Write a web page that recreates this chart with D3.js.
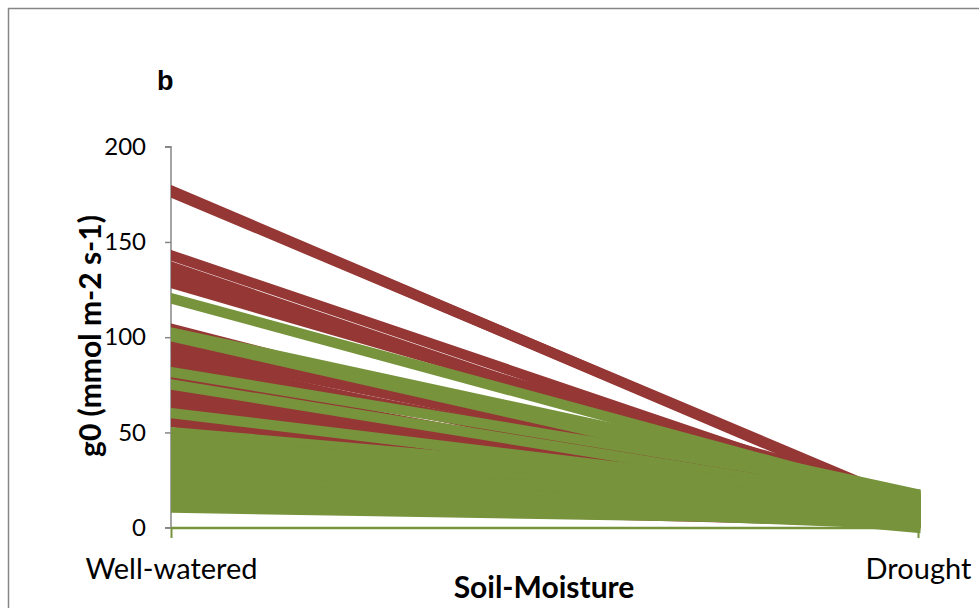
<!DOCTYPE html>
<html>
<head>
<meta charset="utf-8">
<script src="https://cdn.jsdelivr.net/npm/d3@7"></script>
<style>
  html, body { margin: 0; padding: 0; background: #fff; }
  svg { display: block; }
</style>
</head>
<body>
<div id="chart"></div>
<script>
// ---- data ----
const categories = ["Well-watered", "Drought"];
const yTicks = [0, 50, 100, 150, 200];
// red series (drawn first): value at Well-watered and at Drought
const redWW = [177, 176.2, 143, 137, 132.5, 128.5, 104.5, 97.5, 93, 88.5, 86.5, 78.6, 70, 65, 55.5, 12.4];
const redDR = [10, 11, 10, 4, 9, 14.5, 3, 8, 14, 5, 11, 6, 13, 10, 7, 3];
// green series (drawn on top)
const greenWW = [120.4, 102.5, 100.5, 81.7, 75.2, 60.2, 50.2, 47, 45.5, 44, 41, 38, 35.5, 35, 32, 29, 28, 26, 23, 20, 17, 14, 12, 10.5];
const greenDR = [14, 17.5, 12, 17, 12, 13, 16, 9, 12, 17.5, 5, 13, 8, 0, 11, 15, 3, 7, 4, 12, 1.5, 9, 6, 4];

const W = 979, H = 608;
const svg = d3.select("#chart").append("svg").attr("width", W).attr("height", H);

// outer border
svg.append("rect").attr("x", 8.5).attr("y", 8.5).attr("width", 1000).attr("height", 700)
  .attr("fill", "none").attr("stroke", "#868686").attr("stroke-width", 1.5);

const x = d3.scalePoint().domain(categories).range([171, 918]);
const y = d3.scaleLinear().domain([0, 200]).range([527.7, 146.7]);

const line = d3.line().x(d => x(d.cat)).y(d => y(d.v));

function series(ww, dr, color) {
  return ww.map((v, i) => ({ color, pts: [{ cat: categories[0], v }, { cat: categories[1], v: dr[i] }] }));
}
const all = series(redWW, redDR, "#953735").concat(series(greenWW, greenDR, "#77933C"));

svg.append("clipPath").attr("id", "plotclip").append("rect")
  .attr("x", x(categories[0])).attr("y", 0).attr("width", x(categories[1]) - x(categories[0]) + 2.5).attr("height", H);

// y axis
const yAxis = d3.axisLeft(y).tickValues(yTicks).tickSize(6).tickPadding(19).tickFormat(d3.format("d"));
const ya = svg.append("g").attr("transform", "translate(171,0)").call(yAxis);
ya.select(".domain").attr("stroke", "#868686").attr("stroke-width", 1.5).attr("d", "M-6,146.7H0V527.7H-6");
ya.selectAll(".tick line").attr("stroke", "#868686").attr("stroke-width", 1.5);
ya.selectAll(".tick text").attr("fill", "#000").style("font-family", "Lato, 'Open Sans', sans-serif").style("font-size", "24px");

// lines
svg.append("g").attr("clip-path", "url(#plotclip)").selectAll("path").data(all).join("path")
  .attr("d", d => line(d.pts))
  .attr("fill", "none")
  .attr("stroke", d => d.color)
  .attr("stroke-width", 10.3)
  .attr("stroke-linecap", "square");

// x axis (green)
const xAxis = d3.axisBottom(x).tickSize(10).tickPadding(20);
const xa = svg.append("g").attr("transform", "translate(0,528)").call(xAxis);
xa.select(".domain").attr("stroke", "#77933C").attr("stroke-width", 2.5).attr("d", "M171,0H918");
xa.selectAll(".tick line").attr("stroke", "#77933C").attr("stroke-width", 2);
xa.selectAll(".tick text").attr("fill", "#000").style("font-family", "Lato, 'Open Sans', sans-serif").style("font-size", "29px");

// titles
svg.append("text").attr("x", 544).attr("y", 598).attr("text-anchor", "middle")
  .style("font-family", "Lato, 'Open Sans', sans-serif").style("font-weight", "bold").style("font-size", "30px")
  .text("Soil-Moisture");
svg.append("text").attr("transform", "translate(101,336) rotate(-90)").attr("text-anchor", "middle")
  .style("font-family", "Lato, 'Open Sans', sans-serif").style("font-weight", "bold").style("font-size", "30px")
  .text("g0 (mmol m-2 s-1)");
svg.append("text").attr("x", 157).attr("y", 90)
  .style("font-family", "'Liberation Sans', Arial, sans-serif").style("font-weight", "bold").style("font-size", "27px")
  .text("b");
</script>
</body>
</html>
